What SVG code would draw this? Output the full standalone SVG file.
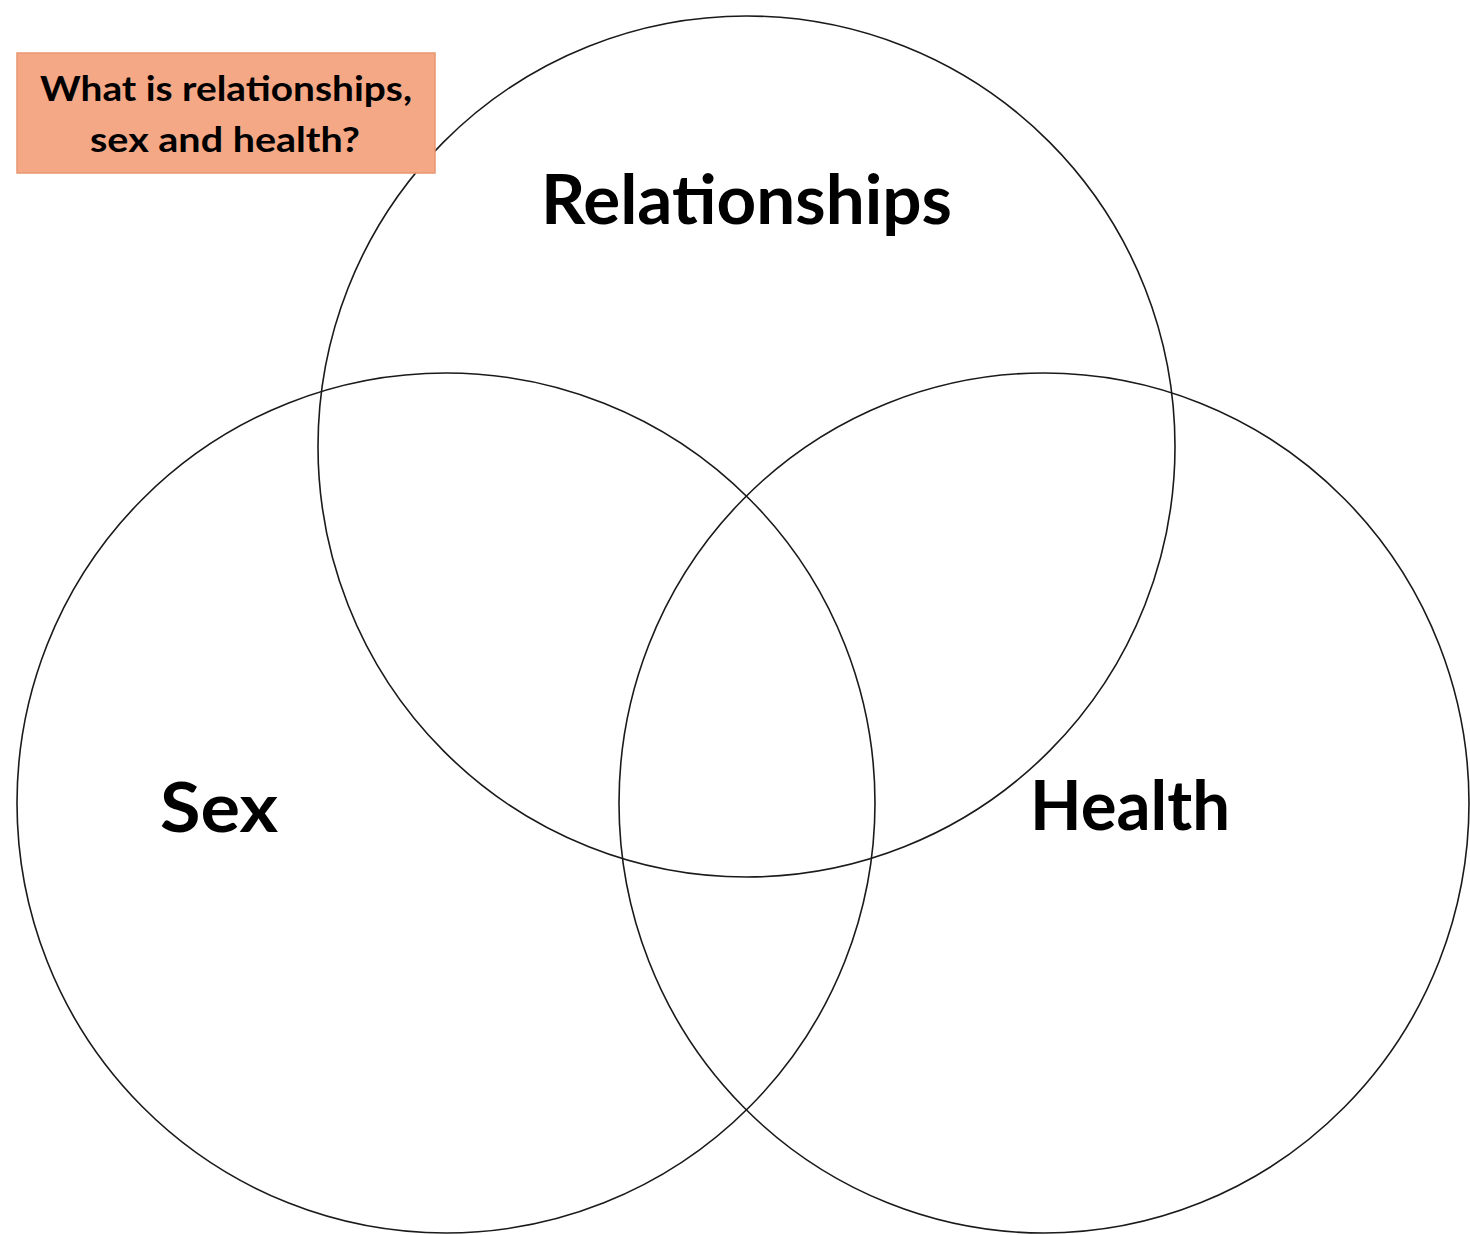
<svg xmlns="http://www.w3.org/2000/svg" width="1470" height="1235" viewBox="0 0 1470 1235">
<style>
.c{fill:none;stroke:#1a1a1a;stroke-width:1.6}
.lbl{font-family:Lato,"Open Sans","Liberation Sans",sans-serif;font-weight:bold;fill:#000}
.big{font-size:68px}
.small{font-size:34px}
</style>
<rect width="1470" height="1235" fill="#fff"/>
<g id="connectors"></g>
<g id="relationships">
<ellipse class="c" cx="746.5" cy="446.5" rx="428.5" ry="430.5"/>
<text class="lbl big" x="541" y="224" textLength="411" lengthAdjust="spacingAndGlyphs">Relationships</text>
</g>
<g id="sex">
<ellipse class="c" cx="446" cy="803" rx="429" ry="430"/>
<text class="lbl big" x="160" y="832" textLength="118" lengthAdjust="spacingAndGlyphs">Sex</text>
</g>
<g id="health">
<ellipse class="c" cx="1044" cy="803" rx="425" ry="430"/>
<text class="lbl big" x="1030" y="830" textLength="200" lengthAdjust="spacingAndGlyphs">Health</text>
</g>
<g id="title-box">
<rect x="17" y="53" width="418" height="120" fill="#F4A886" stroke="#E9966F" stroke-width="1.5"/>
<text class="lbl small" x="40" y="101" textLength="372" lengthAdjust="spacingAndGlyphs">What is relationships,</text>
<text class="lbl small" x="90" y="152" textLength="270" lengthAdjust="spacingAndGlyphs">sex and health?</text>
</g>
</svg>
